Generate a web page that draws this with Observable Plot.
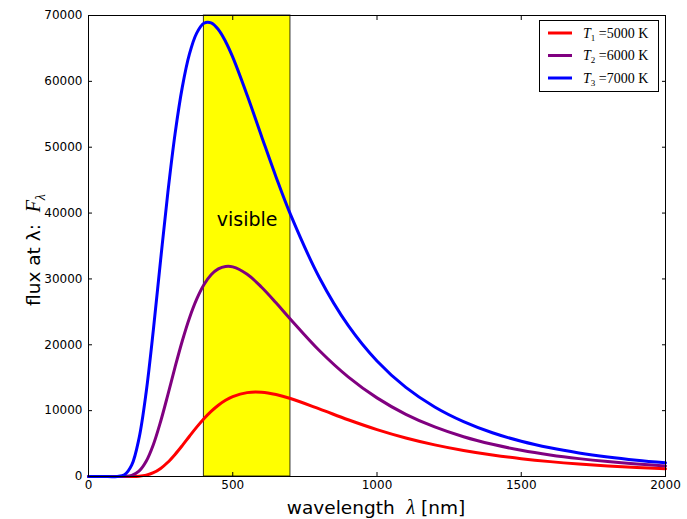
<!DOCTYPE html>
<html>
<head>
<meta charset="utf-8">
<script src="https://cdn.jsdelivr.net/npm/d3@7"></script>
<script src="https://cdn.jsdelivr.net/npm/@observablehq/plot@0.6"></script>
<style>
  html, body { margin: 0; padding: 0; background: #fff; }
  svg { display: block; }
</style>
</head>
<body>
<div id="chart"></div>
<script>
// wavelength samples (nm)
const lambda = [0,50,100,125,150,175,200,225,250,275,300,325,350,375,400,425,450,475,500,550,600,650,700,800,900,1000,1100,1200,1300,1400,1500,1600,1700,1800,1900,2000];
// flux
const fluxT1 = [0,0,0,0,7,53,211,578,1226,2163,3356,4698,6114,7491,8766,9884,10824,11576,12137,12737,12790,12440,11840,10267,8614,7120,5845,4798,3946,3260,2705,2259,1897,1601,1359,1160];
const fluxT2 = [0,0,0,18,179,813,2317,4866,8355,12396,16610,20578,24077,26932,29115,30640,31535,31890,31825,30700,28740,26375,23890,19134,15130,11938,9446,7524,6036,4884,3983,3275,2714,2265,1903,1610];
const fluxT3 = [0,0,14,283,1757,5767,12832,22333,32895,43110,52027,59088,64163,67317,68815,68874,67873,66060,63675,57883,51636,45487,39793,30217,22936,17537,13526,10555,8329,6641,5354,4356,3576,2962,2472,2078];

const seriesNames = ["T1", "T2", "T3"];
const seriesSubs = ["1", "2", "3"];
const seriesTemps = ["5000", "6000", "7000"];
const seriesColors = ["#ff0000", "#800080", "#0000ff"];

const xTicks = [0, 500, 1000, 1500, 2000];
const yTicks = [0, 10000, 20000, 30000, 40000, 50000, 60000, 70000];
const visibleBand = [{x1: 400, x2: 700}];
const bandLabel = [{x: 550, y: 39000, text: "visible"}];

const seriesData = [fluxT1, fluxT2, fluxT3].map(arr => lambda.map((l, i) => ({lambda: l, flux: arr[i]})));

const W = 687, H = 519;
const plot = Plot.plot({
  width: W,
  height: H,
  marginLeft: 88,
  marginRight: 22,
  marginTop: 15,
  marginBottom: 43,
  style: {fontFamily: "DejaVu Sans", fontSize: "12px", color: "#000", background: "#fff"},
  x: {domain: [0, 2000]},
  y: {domain: [0, 70000]},
  marks: [
    Plot.rect(visibleBand, {x1: "x1", x2: "x2", fill: "#ffff00", stroke: "#000", strokeWidth: 1, strokeOpacity: 0.8}),
    ...seriesData.map((d, i) => Plot.line(d, {x: "lambda", y: "flux", stroke: seriesColors[i], strokeWidth: 3, curve: "catmull-rom"})),
    Plot.text(bandLabel, {x: "x", y: "y", text: "text", fontSize: 19, fill: "#000"}),
    Plot.frame({stroke: "#000", strokeWidth: 1}),
    Plot.axisX({ticks: xTicks, tickSize: -4, tickPadding: 8, label: null, fontSize: 12, tickFormat: d => String(d)}),
    Plot.axisX({ticks: xTicks, anchor: "top", tickSize: -4, tickFormat: () => "", label: null}),
    Plot.axisY({ticks: yTicks, tickSize: -4, tickPadding: 10, label: null, fontSize: 12, tickFormat: d => String(d)}),
    Plot.axisY({ticks: yTicks, anchor: "right", tickSize: -4, tickFormat: () => "", label: null})
  ]
});
document.getElementById("chart").appendChild(plot);

const svg = d3.select(plot);
// x-axis label
const xl = svg.append("text")
  .attr("x", 376).attr("y", 514)
  .attr("text-anchor", "middle")
  .attr("font-family", "DejaVu Sans").attr("font-size", 18.5).attr("fill", "#000");
xl.append("tspan").text("wavelength  ");
xl.append("tspan").attr("font-family", "Liberation Serif").attr("font-style", "italic").attr("font-size", 20).text("λ");
xl.append("tspan").text(" [nm]");

// y-axis label
const yl = svg.append("text")
  .attr("transform", "translate(40,250) rotate(-90)")
  .attr("text-anchor", "middle")
  .attr("font-family", "DejaVu Sans").attr("font-size", 18.5).attr("fill", "#000");
yl.append("tspan").text("flux at λ:  ");
yl.append("tspan").attr("font-family", "Liberation Serif").attr("font-style", "italic").attr("font-size", 20).text("F");
yl.append("tspan").attr("font-family", "Liberation Serif").attr("font-style", "italic").attr("font-size", 14).attr("dy", 5).text("λ");

// legend
const lg = svg.append("g");
lg.append("rect").attr("x", 539.5).attr("y", 20.5).attr("width", 119).attr("height", 71)
  .attr("fill", "#fff").attr("stroke", "#000").attr("stroke-width", 1);
seriesNames.forEach((name, i) => {
  const y = 33 + i * 22.5;
  lg.append("line").attr("x1", 548).attr("x2", 572).attr("y1", y).attr("y2", y)
    .attr("stroke", seriesColors[i]).attr("stroke-width", 3);
  const t = lg.append("text").attr("x", 583).attr("y", y + 4.5)
    .attr("text-anchor", "start")
    .attr("font-family", "Liberation Serif").attr("font-size", 14).attr("fill", "#000");
  t.append("tspan").attr("font-style", "italic").text("T");
  t.append("tspan").attr("font-size", 9).attr("dy", 3).text(seriesSubs[i]);
  t.append("tspan").attr("dy", -3).text(" =" + seriesTemps[i] + " K");
});
</script>
</body>
</html>
